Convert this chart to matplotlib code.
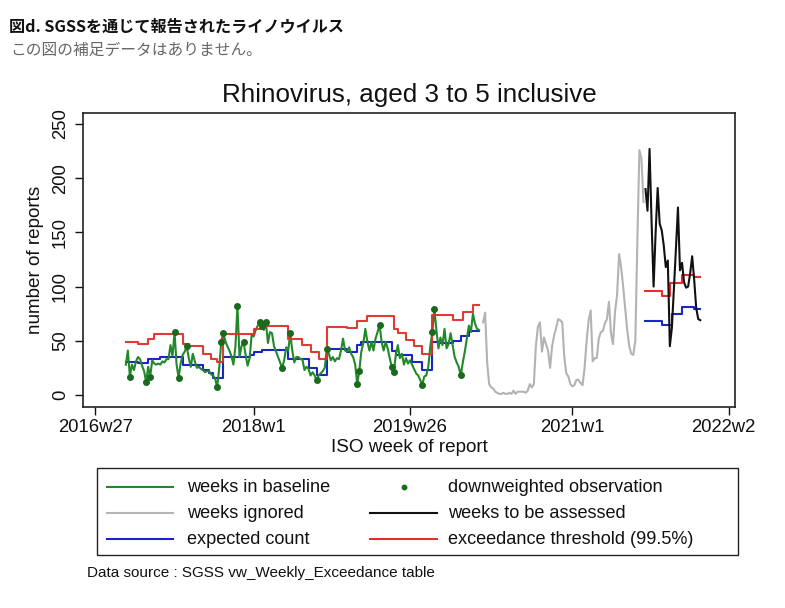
import numpy as np
import matplotlib
matplotlib.use("Agg")
import matplotlib.pyplot as plt
from matplotlib.lines import Line2D
from matplotlib.transforms import Bbox

# ---------------- data (x = weeks since 2016w27) ----------------
tick_weeks = [0, 78, 155, 235, 312]
tick_labels = ["2016w27", "2018w1", "2019w26", "2021w1", "2022w26"]

baseline_start = 15
baseline = [28, 41, 17, 28, 23, 31, 35, 33, 27, 22,
            12, 26, 17, 32, 29, 28, 29, 28, 31, 30,
            33, 33, 46, 36, 58, 28, 16, 29, 37, 40,
            45, 34, 26, 38, 31, 25, 26, 24, 23, 21,
            22, 22, 19, 18, 15, 7, 25, 49, 57, 50,
            45, 41, 36, 28, 45, 82, 35, 45, 49, 37,
            27, 34, 56, 54, 60, 64, 67, 64, 60, 67,
            48, 58, 57, 45, 40, 35, 30, 25, 32, 44,
            41, 57, 41, 30, 35, 35, 33, 33, 23, 26,
            24, 18, 21, 18, 14, 18, 20, 22, 25, 42,
            38, 32, 35, 31, 34, 33, 41, 52, 41, 40,
            44, 38, 35, 28, 10, 22, 40, 48, 61, 49,
            41, 49, 41, 52, 58, 65, 49, 41, 49, 43,
            34, 26, 21, 37, 46, 34, 38, 28, 34, 29,
            32, 28, 24, 20, 18, 14, 9, 17, 18, 26,
            45, 58, 79, 60, 43, 53, 46, 61, 43, 47,
            57, 46, 35, 30, 26, 18, 30, 40, 52, 64,
            58, 75, 66, 61, 60]
downweighted_weeks = [17, 25, 27, 39, 41, 45, 60, 62, 63, 70, 73, 81, 82, 84,
                      92, 96, 109, 114, 129, 130, 140, 146, 147, 161, 166, 167, 180]

ignored_start = 191
ignored = [67, 76, 30, 10, 7, 6, 3, 2, 1, 1,
           2, 1, 1, 2, 1, 4, 1, 3, 3, 3,
           3, 2, 4, 10, 7, 10, 45, 63, 67, 40,
           53, 47, 41, 25, 45, 55, 62, 70, 69, 67,
           35, 20, 17, 10, 8, 9, 14, 14, 11, 9,
           25, 50, 69, 78, 31, 34, 34, 52, 58, 59,
           66, 70, 86, 57, 47, 77, 92, 130, 118, 100,
           80, 60, 45, 38, 37, 50, 142, 226, 218, 178]

assessed_start = 271
assessed = [190, 170, 227, 160, 100, 150, 191, 158, 152, 138,
            118, 124, 45, 62, 98, 135, 173, 115, 122, 104,
            99, 100, 112, 128, 106, 80, 70, 69]

# step-change weeks and values of expected count / threshold
exp1_weeks = [15, 21, 26, 32, 43, 53, 56, 58, 63, 76, 78, 82, 95, 105, 109, 114,
              124, 129, 131, 146, 148, 156, 161, 166, 170, 176, 180, 184, 189]
exp1_vals = [30.5, 29.5, 33, 35.5, 27.5, 23, 20, 16, 35.5, 37, 40, 41.5, 33, 25,
             18.5, 42, 40, 46, 49, 41, 37, 30.6, 23, 49, 47.5, 50, 54, 59, 59]
thr1_weeks = [15, 21, 26, 29, 43, 46, 53, 57, 60, 63, 78, 82, 95, 102, 106, 110,
              114, 124, 129, 134, 147, 149, 153, 157, 161, 166, 176, 181, 186, 189]
thr1_vals = [48.5, 47, 52, 56.5, 47, 45.5, 38, 33, 30, 56.5, 60.5, 63.5, 52, 46,
             40, 33, 63, 61.5, 68, 72.5, 61, 57, 51, 45, 38, 73.5, 69.5, 76.5, 83, 83]
exp2_weeks = [271, 279, 284, 289, 295, 298]
exp2_vals = [68, 65, 75, 81, 79, 79]
thr2_weeks = [271, 279, 283, 289, 295, 298]
thr2_vals = [96, 91, 103.5, 111, 109, 109]

# ---------------- styles ----------------
GREEN = "#22882a"
DKGREEN = "#1a6a1e"
GRAY = "#b3b3b3"
BLUE = "#1a24c8"
RED = "#e0302a"
BLACK = "#111111"
LW = 1.5
FONT = "Liberation Sans"

plt.rcParams["font.family"] = [FONT, "DejaVu Sans"]

W, H = 785, 608
fig = plt.figure(figsize=(W / 100, H / 100), dpi=100)
fig.patch.set_facecolor("white")

def fx(px):
    return px / W

def fy(py):
    return 1 - py / H

# header (Japanese)
cjk = ["Noto Sans CJK JP", "DejaVu Sans"]
fig.text(fx(9), fy(27), "図d. SGSSを通じて報告されたライノウイルス", family=cjk,
         fontsize=11.6, fontweight="bold", color="#111111", va="center", ha="left")
fig.text(fx(10), fy(50), "この図の補足データはありません。", family=cjk,
         fontsize=11.3, color="#666666", va="center", ha="left")

# main axes
ax_l, ax_r, ax_t, ax_b = 83, 735, 113, 407
ax = fig.add_axes([fx(ax_l), fy(ax_b), (ax_r - ax_l) / W, (ax_b - ax_t) / H])

bx = np.arange(baseline_start, baseline_start + len(baseline))
gx = np.arange(ignored_start, ignored_start + len(ignored))
kx = np.arange(assessed_start, assessed_start + len(assessed))
bvals = np.array(baseline)

ax.step(exp1_weeks, exp1_vals, where="post", color=BLUE, lw=LW, zorder=2)
ax.step(exp2_weeks, exp2_vals, where="post", color=BLUE, lw=LW, zorder=2)
ax.plot(bx, bvals, color=GREEN, lw=LW, zorder=3)
ax.step(thr1_weeks, thr1_vals, where="post", color=RED, lw=LW, zorder=4, alpha=0.95)
ax.step(thr2_weeks, thr2_vals, where="post", color=RED, lw=LW, zorder=2)
dw = np.array(downweighted_weeks)
ax.plot(dw, bvals[dw - baseline_start], ls="none", marker="o", ms=4.0,
        color=DKGREEN, zorder=5)
ax.plot(gx, ignored, color=GRAY, lw=LW, zorder=3)
ax.plot(kx, assessed, color=BLACK, lw=LW, zorder=3)

ax.set_xlim(-6.1, 315.1)
ax.set_ylim(-11.1, 260.2)
ax.set_xticks(tick_weeks)
ax.set_xticklabels(tick_labels)
ax.set_yticks([0, 50, 100, 150, 200, 250])
for s in ax.spines.values():
    s.set_linewidth(1.2)
    s.set_color("#222222")
ax.tick_params(axis="x", length=6, width=1.0, pad=3, labelsize=13.3, colors="#111111")
ax.tick_params(axis="y", length=6, width=1.0, pad=4, labelsize=13.3, colors="#111111",
               labelrotation=90)
for lab in ax.get_yticklabels():
    lab.set_va("center")
ax.set_xlabel("ISO week of report", fontsize=13.6, labelpad=2, color="#111111")
ax.set_ylabel("number of reports", fontsize=13.6, labelpad=6, color="#111111")
ax.set_title("Rhinovirus, aged 3 to 5 inclusive", fontsize=18.7, pad=8, color="#111111")

# clip the last tick label like the source image
clip = Bbox.from_extents(0, 0, 755, H)
for lab in ax.get_xticklabels():
    lab.set_clip_box(clip)
    lab.set_clip_on(True)

# legend (drawn in pixel coordinates)
lg = fig.add_axes([0, 0, 1, 1], zorder=10)
lg.set_xlim(0, W)
lg.set_ylim(H, 0)
lg.axis("off")
lg.add_patch(plt.Rectangle((97, 468), 641, 87, fill=False, lw=1.0, ec="#222222"))
rows = [487, 513, 539]
lfs = 13.1
entries_left = [("weeks in baseline", GREEN), ("weeks ignored", GRAY), ("expected count", BLUE)]
for (lab, c), yy in zip(entries_left, rows):
    lg.add_line(Line2D([107, 173], [yy, yy], color=c, lw=LW))
    lg.text(187, yy, lab, fontsize=lfs, va="center", ha="left", color="#111111")
lg.add_line(Line2D([404], [rows[0]], ls="none", marker="o", ms=3.2, color=DKGREEN))
lg.text(448, rows[0], "downweighted observation", fontsize=lfs, va="center", ha="left",
        color="#111111")
lg.add_line(Line2D([370, 437], [rows[1], rows[1]], color=BLACK, lw=LW))
lg.text(448, rows[1], "weeks to be assessed", fontsize=lfs, va="center", ha="left",
        color="#111111")
lg.add_line(Line2D([370, 437], [rows[2], rows[2]], color=RED, lw=LW))
lg.text(448, rows[2], "exceedance threshold (99.5%)", fontsize=lfs, va="center", ha="left",
        color="#111111")
lg.text(87, 573, "Data source : SGSS vw_Weekly_Exceedance table", fontsize=11.0,
        va="center", ha="left", color="#111111")

fig.savefig("out.png", dpi=100, facecolor="white")
